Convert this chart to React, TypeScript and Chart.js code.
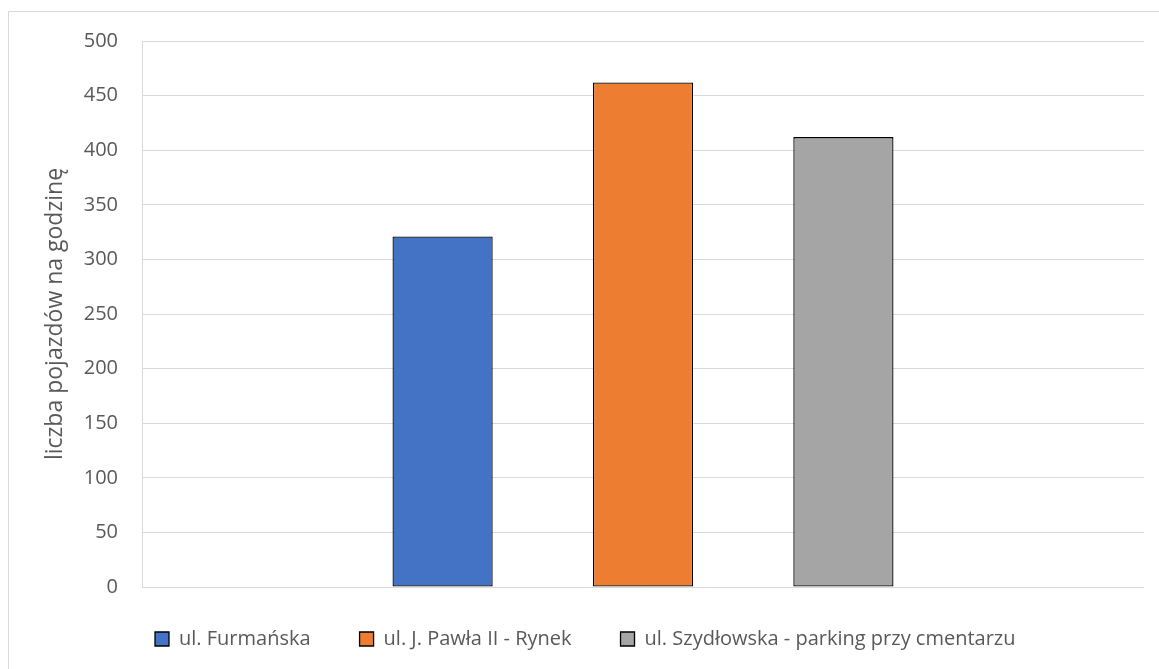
import React, { useEffect, useRef } from "react";
import { Chart, registerables } from "chart.js";

Chart.register(...registerables);

// Hourly traffic counts at three measurement points
const categories = [""];
const seriesNames = [
  "ul. Furmańska",
  "ul. J. Pawła II - Rynek",
  "ul. Szydłowska - parking przy cmentarzu",
];
const seriesValues = [321, 462, 412];
const seriesColors = ["#4472C4", "#ED7D31", "#A5A5A5"];
const yTicks = [0, 50, 100, 150, 200, 250, 300, 350, 400, 450, 500];
const yTitle = "liczba pojazdów na godzinę";

const FONT = "'Open Sans', 'Noto Sans', sans-serif";
const TEXT = "#595959";
const GRID = "#d9d9d9";

// Frame around the chart (left and top edges visible)
const framePlugin = {
  id: "frame",
  beforeDraw(chart: any) {
    const { ctx } = chart;
    ctx.save();
    ctx.strokeStyle = GRID;
    ctx.lineWidth = 1;
    ctx.beginPath();
    ctx.moveTo(8.5, chart.height + 5);
    ctx.lineTo(8.5, 11.5);
    ctx.lineTo(chart.width + 5, 11.5);
    ctx.stroke();
    ctx.restore();
  },
};

// Place the legend row under the plot
const legendPlacePlugin = {
  id: "legendPlace",
  afterLayout(chart: any) {
    const lg = chart.legend;
    if (!lg) return;
    const pad = lg.options.labels.padding;
    const w = lg.right - lg.left;
    const h = lg.bottom - lg.top;
    lg.left = 155 - pad;
    lg.right = lg.left + w;
    lg.top = 629 - pad;
    lg.bottom = lg.top + h;
  },
};

export default function App() {
  const canvasRef = useRef<HTMLCanvasElement | null>(null);

  useEffect(() => {
    if (!canvasRef.current) return;
    const chart = new Chart(canvasRef.current, {
      type: "bar",
      data: {
        labels: categories,
        datasets: seriesNames.map((name, i) => ({
          label: name,
          data: [seriesValues[i]],
          backgroundColor: seriesColors[i],
          borderColor: "#000000",
          borderWidth: 1.3,
          borderSkipped: false,
          categoryPercentage: 0.6,
          barPercentage: 0.5,
        })),
      },
      options: {
        animation: false,
        responsive: false,
        maintainAspectRatio: false,
        layout: { padding: { top: 41, left: 0, right: 15, bottom: 3 } },
        plugins: {
          tooltip: { enabled: false },
          legend: {
            position: "bottom",
            align: "start",
            labels: {
              color: TEXT,
              font: { family: FONT, size: 20 },
              boxWidth: 14,
              boxHeight: 14,
              padding: 49,
            },
          },
        },
        scales: {
          x: { display: false },
          y: {
            min: 0,
            max: 500,
            afterBuildTicks(scale: any) {
              scale.ticks = yTicks.map((v) => ({ value: v }));
            },
            afterFit(scale: any) {
              scale.width = 142;
            },
            ticks: {
              color: TEXT,
              font: { family: FONT, size: 20 },
              padding: 24,
            },
            grid: { color: GRID, lineWidth: 1, drawTicks: false },
            border: { display: true, color: GRID, width: 1 },
            title: {
              display: true,
              text: yTitle,
              color: TEXT,
              font: { family: FONT, size: 23 },
              padding: { top: 42, bottom: 0 },
            },
          },
        },
      },
      plugins: [framePlugin, legendPlacePlugin],
    });
    return () => chart.destroy();
  }, []);

  return (
    <div style={{ position: "fixed", left: 0, top: 0, width: 1159, height: 669, background: "#ffffff" }}>
      <canvas ref={canvasRef} width={1159} height={669} style={{ display: "block" }} />
    </div>
  );
}
